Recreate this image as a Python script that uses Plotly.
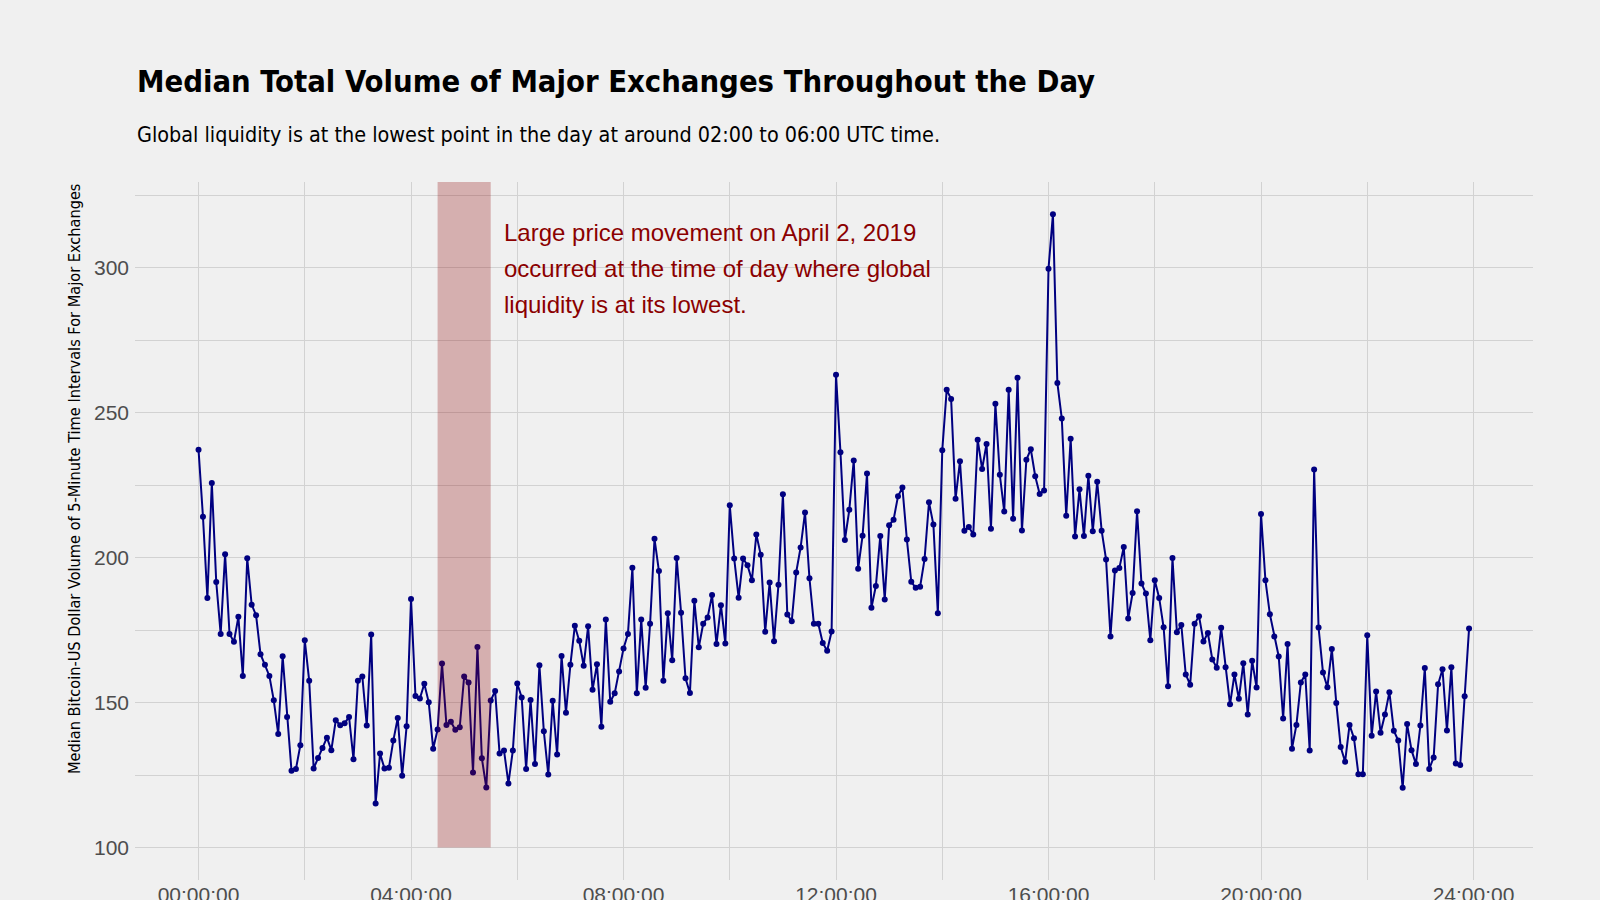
import plotly.graph_objects as go

# Median 5-minute volume, 288 intervals (00:00 .. 23:55 UTC), split by 3-hour blocks
vol_00_03 = [237.2, 214.1, 186.1, 225.8, 191.6, 173.7, 201.2, 173.7, 171.0, 179.6, 159.2, 199.8,
             183.8, 180.1, 166.7, 163.1, 159.2, 150.8, 139.2, 166.0, 145.0, 126.5, 127.1, 135.3,
             171.5, 157.5, 127.3, 130.9, 134.3, 137.9, 133.6, 143.9, 142.2, 142.9, 145.0, 130.5]
vol_03_06 = [157.5, 159.0, 142.1, 173.5, 115.2, 132.4, 127.3, 127.5, 136.9, 144.7, 124.8, 141.8,
             185.7, 152.3, 151.4, 156.5, 150.1, 134.1, 140.7, 163.5, 142.3, 143.4, 140.6, 141.5,
             159.0, 156.9, 125.9, 169.2, 130.8, 120.7, 150.7, 154.0, 132.4, 133.5, 122.1, 133.5]
vol_06_09 = [156.6, 151.8, 127.1, 150.9, 128.8, 162.9, 140.1, 125.2, 150.6, 132.1, 166.1, 146.5,
             163.1, 176.5, 171.3, 162.7, 176.3, 154.4, 163.2, 141.7, 178.7, 150.3, 153.2, 160.7,
             168.7, 173.7, 196.5, 153.2, 178.7, 155.1, 177.2, 206.5, 195.4, 157.5, 180.8, 164.6]
vol_09_12 = [199.9, 181.0, 158.4, 153.3, 185.1, 169.1, 177.2, 179.4, 187.1, 170.2, 183.6, 170.4,
             218.1, 199.7, 186.2, 199.7, 197.4, 192.2, 208.0, 201.0, 174.4, 191.4, 171.2, 190.7,
             221.9, 180.4, 178.1, 194.9, 203.5, 215.6, 192.9, 177.2, 177.2, 170.6, 167.9, 174.5]
vol_12_15 = [263.1, 236.4, 206.1, 216.5, 233.5, 196.2, 207.6, 229.0, 182.7, 190.2, 207.5, 185.6,
             211.2, 213.1, 221.2, 224.2, 206.3, 191.7, 189.6, 190.0, 199.5, 219.1, 211.4, 180.8,
             237.1, 257.9, 254.7, 220.3, 233.3, 209.3, 210.6, 208.0, 240.7, 230.6, 239.2, 210.0]
vol_15_18 = [253.1, 228.6, 215.9, 257.9, 213.4, 262.1, 209.4, 233.8, 237.4, 228.1, 222.0, 223.2,
             299.7, 318.5, 260.3, 248.0, 214.5, 241.0, 207.3, 223.6, 207.5, 228.3, 209.1, 226.2,
             209.3, 199.4, 172.8, 195.6, 196.4, 203.7, 179.0, 187.8, 216.0, 191.1, 187.6, 171.5]
vol_18_21 = [192.2, 186.1, 176.0, 155.6, 199.9, 174.3, 176.8, 159.7, 156.2, 177.2, 179.8, 171.1,
             174.0, 164.9, 162.0, 175.8, 162.2, 149.4, 159.7, 151.3, 163.6, 145.9, 164.4, 155.2,
             215.1, 192.2, 180.5, 172.8, 165.9, 144.5, 170.2, 134.1, 142.3, 156.9, 159.7, 133.5]
vol_21_24 = [230.4, 175.9, 160.4, 155.3, 168.5, 149.9, 134.7, 129.6, 142.3, 137.7, 125.3, 125.3,
             173.2, 138.6, 153.8, 139.6, 145.9, 153.6, 140.3, 136.9, 120.6, 142.6, 133.6, 128.8,
             142.1, 161.9, 127.1, 131.1, 156.3, 161.5, 140.4, 162.2, 129.0, 128.5, 152.2, 175.6]

volume = vol_00_03 + vol_03_06 + vol_06_09 + vol_09_12 + vol_12_15 + vol_15_18 + vol_18_21 + vol_21_24
interval_minutes = 5
hours = [i * interval_minutes / 60 for i in range(len(volume))]

tick_hours = [0, 4, 8, 12, 16, 20, 24]
tick_labels = ["00:00:00", "04:00:00", "08:00:00", "12:00:00", "16:00:00", "20:00:00", "24:00:00"]

highlight_start, highlight_end = 4.5, 5.5
highlight_floor = 100

title = "Median Total Volume of Major Exchanges Throughout the Day"
subtitle = "Global liquidity is at the lowest point in the day at around 02:00 to 06:00 UTC time."
y_title = "Median Bitcoin-US Dollar Volume of 5-Minute Time Intervals For Major Exchanges"
note_lines = ["Large price movement on April 2, 2019",
              "occurred at the time of day where global",
              "liquidity is at its lowest."]
note_x = 5.71
note_y = [312.2, 299.7, 287.4]

y_range = [88.8, 329.6]
x_range = [-1.196, 25.12]

BG = "#F0F0F0"
GRID = "#D2D2D2"
NARROW = "Liberation Sans Narrow, DejaVu Sans Condensed, Arial Narrow, sans-serif"
REG = "Liberation Sans, Arial, Helvetica, sans-serif"

fig = go.Figure()
fig.add_trace(go.Scatter(
    x=hours, y=volume, mode="lines+markers",
    line=dict(color="#000080", width=2),
    marker=dict(color="#000080", size=6),
    hoverinfo="x+y", showlegend=False,
))

fig.add_shape(type="rect", xref="x", yref="y",
              x0=highlight_start, x1=highlight_end, y0=highlight_floor, y1=y_range[1],
              fillcolor="rgba(139,0,0,0.27)", line=dict(width=0), layer="above")

for txt, yy in zip(note_lines, note_y):
    fig.add_annotation(x=note_x, y=yy, xref="x", yref="y", text=txt, showarrow=False,
                       xanchor="left", yanchor="middle",
                       font=dict(family=REG, size=24, color="#8B0000"))

fig.add_annotation(x=0, y=1.1435, xref="paper", yref="paper", text=f"<b>{title}</b>",
                   showarrow=False, xanchor="left", yanchor="middle",
                   font=dict(family=NARROW, size=30.7, color="#000000"))
fig.add_annotation(x=0, y=1.0685, xref="paper", yref="paper", text=subtitle,
                   showarrow=False, xanchor="left", yanchor="middle",
                   font=dict(family=NARROW, size=21.4, color="#000000"))
fig.add_annotation(x=-0.0433, y=0.575, xref="paper", yref="paper", text=y_title,
                   showarrow=False, xanchor="center", yanchor="middle", textangle=-90,
                   font=dict(family=NARROW, size=16.2, color="#000000"))

fig.update_layout(
    width=1600, height=900,
    paper_bgcolor=BG, plot_bgcolor=BG,
    margin=dict(l=135, r=67, t=182, b=20, autoexpand=False),
    xaxis=dict(range=x_range, tickmode="array", tickvals=tick_hours, ticktext=tick_labels,
               automargin=False,
               showgrid=True, gridcolor=GRID, gridwidth=1, zeroline=False, showline=False,
               ticks="", tickfont=dict(family=REG, size=21, color="#4D4D4D"),
               minor=dict(tickmode="linear", tick0=0, dtick=2, showgrid=True,
                          gridcolor=GRID, gridwidth=1)),
    yaxis=dict(range=y_range, tickmode="linear", tick0=100, dtick=50,
               automargin=False, ticklabelstandoff=5,
               showgrid=True, gridcolor=GRID, gridwidth=1, zeroline=False, showline=False,
               ticks="", tickfont=dict(family=REG, size=21, color="#4D4D4D"),
               minor=dict(tickmode="linear", tick0=100, dtick=25, showgrid=True,
                          gridcolor=GRID, gridwidth=1)),
)

fig.write_html("out.html", config={"displayModeBar": False},
               post_script="document.body.style.margin='0';document.body.style.overflow='hidden';")
